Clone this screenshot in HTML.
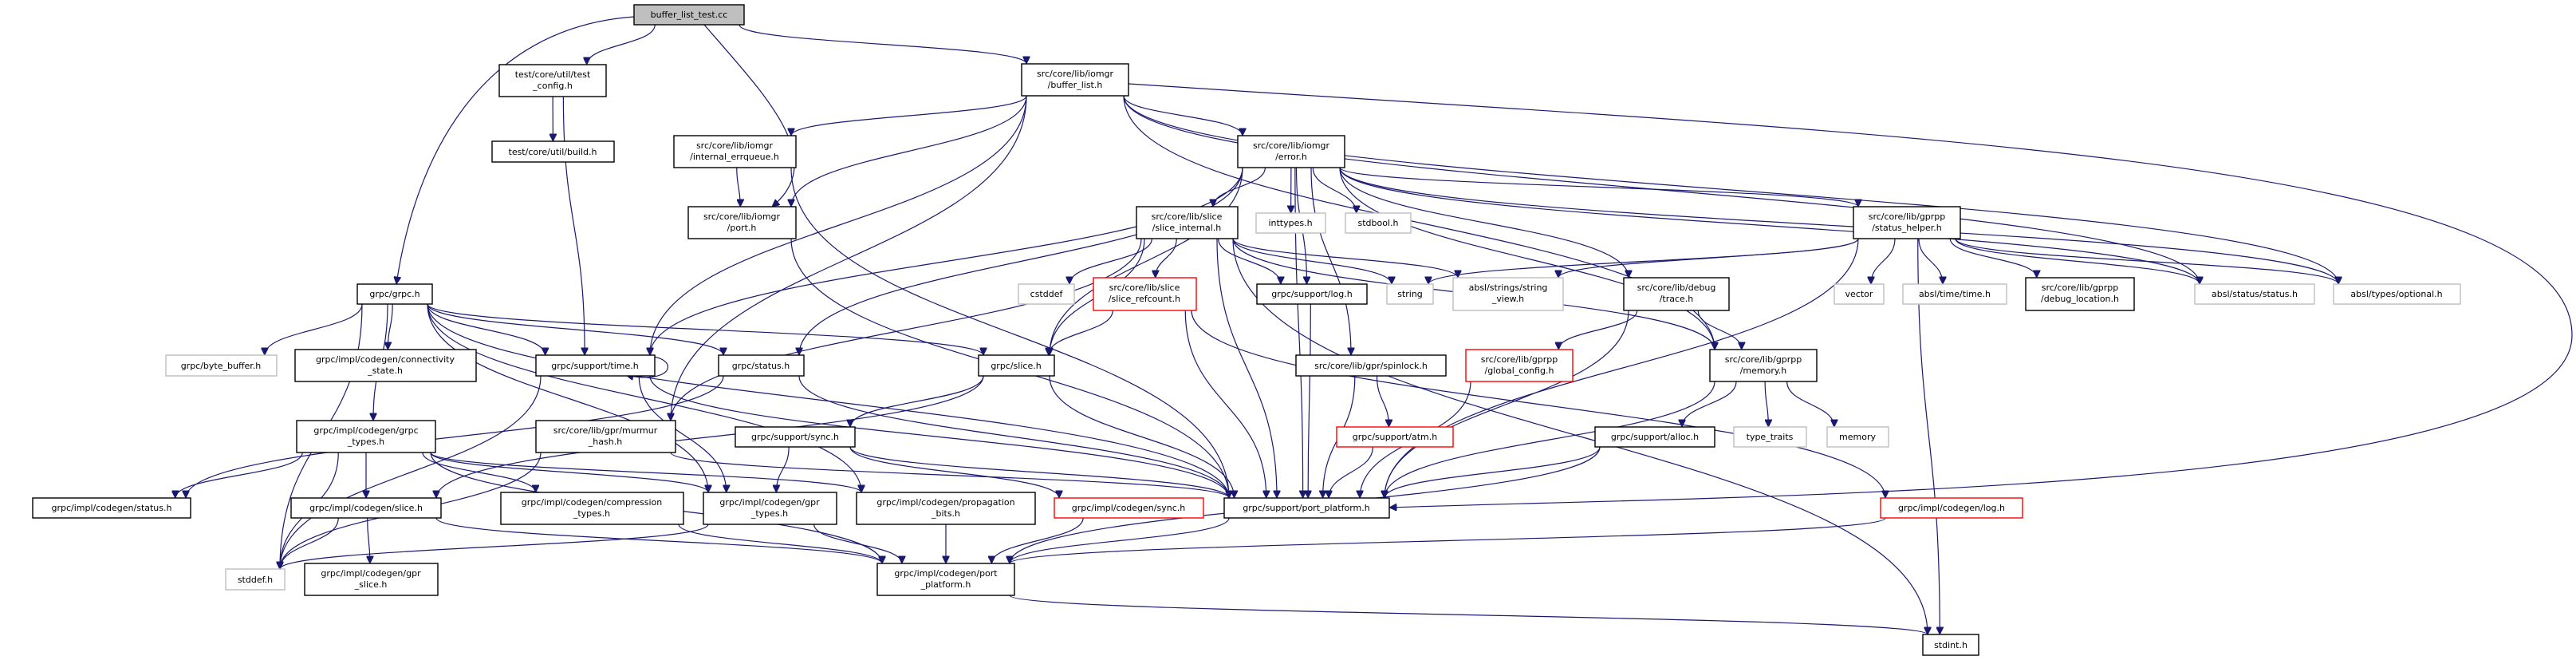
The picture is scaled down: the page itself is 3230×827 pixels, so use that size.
<!DOCTYPE html>
<html><head><meta charset="utf-8"><style>
html,body{margin:0;padding:0;background:#fff;}
svg{display:block;}
text{font-family:"DejaVu Sans","Liberation Sans",sans-serif;font-size:11px;fill:#000;text-anchor:middle;}
.n{fill:#fff;stroke:#000;stroke-width:1.4;}
.g{fill:#fff;stroke:#bfbfbf;stroke-width:1.4;}
.r{fill:#fff;stroke:#ff0000;stroke-width:1.4;}
.root{fill:#bfbfbf;stroke:#000;stroke-width:1.4;}
.e{fill:none;stroke:#191970;stroke-width:1.2;}
</style></head><body>
<svg id="s" width="3230" height="827" viewBox="0 0 3230 827" xmlns="http://www.w3.org/2000/svg">
<defs><marker id="a" viewBox="0 0 10 10" refX="10" refY="5" markerWidth="10" markerHeight="9" markerUnits="userSpaceOnUse" orient="auto"><path d="M0,0 L10,5 L0,10 z" fill="#191970" stroke="#191970"/></marker></defs>
<g id="edges">
<path class="e" marker-end="url(#a)" d="M795,21 C600,35 520,200 497,356"/>
<path class="e" marker-end="url(#a)" d="M883,31 C960,120 1040,200 968,259"/>
<path class="e" marker-end="url(#a)" d="M1415,105 C2400,170 3225,200 3225,420 C3225,620 2200,620 1742,636"/>
</g>
<g id="nodes">
<rect class="root" x="795" y="6" width="138" height="25"/><text x="864" y="22">buffer_list_test.cc</text>
<rect class="n" x="626" y="81" width="134" height="40"/><text x="693" y="97">test/core/util/test</text><text x="693" y="111">_config.h</text>
<rect class="n" x="617" y="177" width="153" height="26"/><text x="693" y="194">test/core/util/build.h</text>
<rect class="n" x="845" y="170" width="153" height="40"/><text x="921" y="186">src/core/lib/iomgr</text><text x="921" y="200">/internal_errqueue.h</text>
<rect class="n" x="863" y="259" width="135" height="40"/><text x="930" y="275">src/core/lib/iomgr</text><text x="930" y="289">/port.h</text>
<rect class="n" x="448" y="356" width="94" height="25"/><text x="495" y="372">grpc/grpc.h</text>
<rect class="g" x="208" y="445" width="139" height="26"/><text x="277" y="462">grpc/byte_buffer.h</text>
<rect class="n" x="370" y="438" width="227" height="40"/><text x="483" y="454">grpc/impl/codegen/connectivity</text><text x="483" y="468">_state.h</text>
<rect class="n" x="672" y="445" width="149" height="26"/><text x="746" y="462">grpc/support/time.h</text>
<rect class="n" x="901" y="445" width="107" height="26"/><text x="954" y="462">grpc/status.h</text>
<rect class="n" x="372" y="527" width="174" height="40"/><text x="459" y="543">grpc/impl/codegen/grpc</text><text x="459" y="557">_types.h</text>
<rect class="n" x="672" y="527" width="175" height="40"/><text x="759" y="543">src/core/lib/gpr/murmur</text><text x="759" y="557">_hash.h</text>
<rect class="n" x="922" y="535" width="150" height="25"/><text x="997" y="551">grpc/support/sync.h</text>
<rect class="n" x="41" y="624" width="198" height="25"/><text x="140" y="640">grpc/impl/codegen/status.h</text>
<rect class="n" x="365" y="624" width="188" height="25"/><text x="459" y="640">grpc/impl/codegen/slice.h</text>
<rect class="n" x="628" y="617" width="229" height="40"/><text x="742" y="633">grpc/impl/codegen/compression</text><text x="742" y="647">_types.h</text>
<rect class="n" x="882" y="617" width="167" height="40"/><text x="965" y="633">grpc/impl/codegen/gpr</text><text x="965" y="647">_types.h</text>
<rect class="g" x="283" y="713" width="74" height="26"/><text x="320" y="730">stddef.h</text>
<rect class="n" x="382" y="706" width="167" height="40"/><text x="465" y="722">grpc/impl/codegen/gpr</text><text x="465" y="736">_slice.h</text>
<rect class="n" x="1281" y="80" width="134" height="40"/><text x="1348" y="96">src/core/lib/iomgr</text><text x="1348" y="110">/buffer_list.h</text>
<rect class="n" x="1552" y="170" width="134" height="40"/><text x="1619" y="186">src/core/lib/iomgr</text><text x="1619" y="200">/error.h</text>
<rect class="n" x="1425" y="259" width="127" height="40"/><text x="1488" y="275">src/core/lib/slice</text><text x="1488" y="289">/slice_internal.h</text>
<rect class="g" x="1575" y="267" width="87" height="25"/><text x="1618" y="283">inttypes.h</text>
<rect class="g" x="1687" y="267" width="82" height="25"/><text x="1728" y="283">stdbool.h</text>
<rect class="g" x="1277" y="356" width="70" height="25"/><text x="1312" y="372">cstddef</text>
<rect class="r" x="1371" y="348" width="129" height="41"/><text x="1435" y="364">src/core/lib/slice</text><text x="1435" y="378">/slice_refcount.h</text>
<rect class="n" x="1576" y="356" width="138" height="25"/><text x="1645" y="372">grpc/support/log.h</text>
<rect class="g" x="1739" y="356" width="58" height="25"/><text x="1768" y="372">string</text>
<rect class="g" x="1822" y="348" width="138" height="41"/><text x="1891" y="364">absl/strings/string</text><text x="1891" y="378">_view.h</text>
<rect class="n" x="2036" y="348" width="132" height="41"/><text x="2102" y="364">src/core/lib/debug</text><text x="2102" y="378">/trace.h</text>
<rect class="n" x="1227" y="445" width="95" height="26"/><text x="1274" y="462">grpc/slice.h</text>
<rect class="n" x="1625" y="445" width="188" height="26"/><text x="1719" y="462">src/core/lib/gpr/spinlock.h</text>
<rect class="r" x="1838" y="438" width="134" height="40"/><text x="1905" y="454">src/core/lib/gprpp</text><text x="1905" y="468">/global_config.h</text>
<rect class="r" x="1676" y="535" width="146" height="25"/><text x="1749" y="551">grpc/support/atm.h</text>
<rect class="n" x="2000" y="535" width="150" height="25"/><text x="2075" y="551">grpc/support/alloc.h</text>
<rect class="n" x="1074" y="617" width="224" height="40"/><text x="1186" y="633">grpc/impl/codegen/propagation</text><text x="1186" y="647">_bits.h</text>
<rect class="r" x="1322" y="624" width="187" height="25"/><text x="1415" y="640">grpc/impl/codegen/sync.h</text>
<rect class="n" x="1535" y="624" width="207" height="25"/><text x="1638" y="640">grpc/support/port_platform.h</text>
<rect class="n" x="1100" y="706" width="172" height="40"/><text x="1186" y="722">grpc/impl/codegen/port</text><text x="1186" y="736">_platform.h</text>
<rect class="n" x="2324" y="259" width="134" height="40"/><text x="2391" y="275">src/core/lib/gprpp</text><text x="2391" y="289">/status_helper.h</text>
<rect class="g" x="2300" y="356" width="62" height="25"/><text x="2331" y="372">vector</text>
<rect class="g" x="2386" y="356" width="130" height="25"/><text x="2451" y="372">absl/time/time.h</text>
<rect class="n" x="2540" y="348" width="136" height="41"/><text x="2608" y="364">src/core/lib/gprpp</text><text x="2608" y="378">/debug_location.h</text>
<rect class="g" x="2752" y="356" width="150" height="25"/><text x="2827" y="372">absl/status/status.h</text>
<rect class="g" x="2926" y="356" width="159" height="25"/><text x="3005" y="372">absl/types/optional.h</text>
<rect class="n" x="2144" y="438" width="134" height="40"/><text x="2211" y="454">src/core/lib/gprpp</text><text x="2211" y="468">/memory.h</text>
<rect class="g" x="2174" y="535" width="91" height="25"/><text x="2219" y="551">type_traits</text>
<rect class="g" x="2291" y="535" width="77" height="25"/><text x="2329" y="551">memory</text>
<rect class="r" x="2358" y="624" width="178" height="25"/><text x="2447" y="640">grpc/impl/codegen/log.h</text>
<rect class="n" x="2411" y="795" width="70" height="26"/><text x="2446" y="812">stdint.h</text>
</g>
</svg>
<script>
var N={
test:[795,6,138,25],test_config:[626,81,134,40],build:[617,177,153,26],errqueue:[845,170,153,40],port:[863,259,135,40],
grpc:[448,356,94,25],byte_buffer:[208,445,139,26],connectivity:[370,438,227,40],time:[672,445,149,26],status:[901,445,107,26],
grpc_types:[372,527,174,40],murmur:[672,527,175,40],sync:[922,535,150,25],cstatus:[41,624,198,25],cslice:[365,624,188,25],
compression:[628,617,229,40],gpr_types:[882,617,167,40],stddef:[283,713,74,26],gpr_slice:[382,706,167,40],
buffer_list:[1281,80,134,40],error:[1552,170,134,40],slice_internal:[1425,259,127,40],inttypes:[1575,267,87,25],stdbool:[1687,267,82,25],
cstddef:[1277,356,70,25],refcount:[1371,348,129,41],log:[1576,356,138,25],string:[1739,356,58,25],string_view:[1822,348,138,41],
trace:[2036,348,132,41],slice:[1227,445,95,26],spinlock:[1625,445,188,26],global_config:[1838,438,134,40],atm:[1676,535,146,25],
alloc:[2000,535,150,25],propagation:[1074,617,224,40],csync:[1322,624,187,25],port_platform:[1535,624,207,25],cport:[1100,706,172,40],
status_helper:[2324,259,134,40],vector:[2300,356,62,25],timeh:[2386,356,130,25],debug_location:[2540,348,136,41],abslstatus:[2752,356,150,25],
optional:[2926,356,159,25],memory:[2144,438,134,40],type_traits:[2174,535,91,25],memoryg:[2291,535,77,25],clog:[2358,624,178,25],stdint:[2411,795,70,26]};
var E="test>test_config test>buffer_list test_config>build test_config>time buffer_list>errqueue buffer_list>port buffer_list>error buffer_list>time buffer_list>memory buffer_list>abslstatus buffer_list>optional buffer_list>murmur errqueue>port errqueue>port_platform port>port_platform error>slice_internal error>inttypes error>stdbool error>log error>trace error>status_helper error>abslstatus error>optional error>time error>status error>slice error>spinlock error>port_platform error>memory slice_internal>cstddef slice_internal>refcount slice_internal>log slice_internal>string slice_internal>string_view slice_internal>slice slice_internal>murmur slice_internal>port_platform slice_internal>memory slice_internal>stdint refcount>slice refcount>port_platform refcount>clog log>port_platform trace>global_config trace>memory trace>port_platform global_config>port_platform spinlock>atm spinlock>port_platform atm>port_platform memory>alloc memory>type_traits memory>memoryg memory>port_platform alloc>port_platform alloc>cport status_helper>vector status_helper>timeh status_helper>debug_location status_helper>abslstatus status_helper>optional status_helper>string status_helper>string_view status_helper>port_platform status_helper>stdint grpc>byte_buffer grpc>connectivity grpc>time grpc>status grpc>grpc_types grpc>slice grpc>port_platform grpc>stddef grpc>gpr_types grpc>propagation time>gpr_types time>port_platform time>stddef status>port_platform status>cstatus grpc_types>cstatus grpc_types>cslice grpc_types>stddef grpc_types>compression grpc_types>gpr_types grpc_types>propagation grpc_types>cport murmur>port_platform murmur>stddef sync>gpr_types sync>csync sync>port_platform slice>sync slice>port_platform slice>cslice cslice>stddef cslice>gpr_slice cslice>cport compression>cport gpr_types>stddef gpr_types>cport propagation>cport csync>cport port_platform>cport clog>cport cport>stdint".split(" ");
var g=document.getElementById("edges"),ns="http://www.w3.org/2000/svg";
function cl(v,a,b){return Math.max(a,Math.min(b,v));}
E.forEach(function(e){var p=e.split(">"),s=N[p[0]],t=N[p[1]];
 var scx=s[0]+s[2]/2,tcx=t[0]+t[2]/2,d;
 if(t[1]>s[1]+s[3]){
  var sx=scx+cl((tcx-scx)*0.25,-s[2]/2+6,s[2]/2-6),sy=s[1]+s[3];
  var tx=tcx+cl((scx-tcx)*0.25,-t[2]/2+6,t[2]/2-6),ty=t[1];
  var dy=ty-sy;
  d="M"+sx+","+sy+" C"+sx+","+(sy+dy*0.5)+" "+tx+","+(ty-dy*0.5)+" "+tx+","+ty;
 } else {
  var sy2=s[1]+s[3]/2,ty2=t[1]+t[3]/2,sx2,tx2;
  if(tcx>scx){sx2=s[0]+s[2];tx2=t[0];}else{sx2=s[0];tx2=t[0]+t[2];}
  d="M"+sx2+","+sy2+" C"+((sx2+tx2)/2)+","+sy2+" "+((sx2+tx2)/2)+","+ty2+" "+tx2+","+ty2;
 }
 var pa=document.createElementNS(ns,"path");pa.setAttribute("d",d);pa.setAttribute("class","e");pa.setAttribute("marker-end","url(#a)");g.appendChild(pa);});
var self=document.createElementNS(ns,"path");self.setAttribute("d","M785,448 C855,435 855,485 785,470");self.setAttribute("class","e");self.setAttribute("marker-end","url(#a)");g.appendChild(self);
</script>
</body></html>
